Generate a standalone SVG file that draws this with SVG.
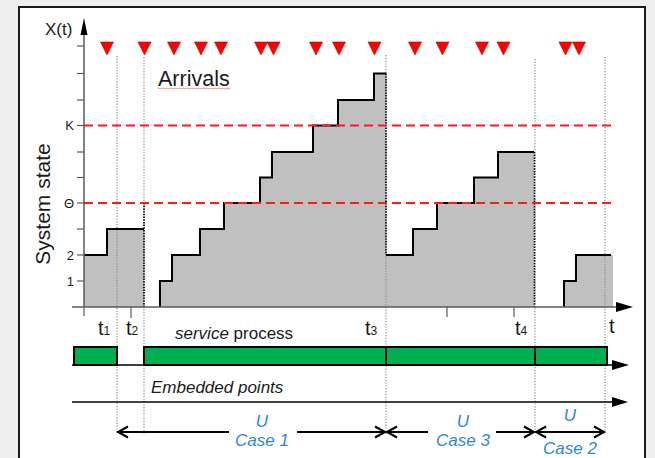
<svg xmlns="http://www.w3.org/2000/svg" width="655" height="458" viewBox="0 0 655 458">
  <style>
    text { font-family: "Liberation Sans", Arial, sans-serif; fill: #1a1a1a; }
    .axis { stroke: #5a5a5a; stroke-width: 1.5; fill: none; }
    .tick { stroke: #5a5a5a; stroke-width: 1.2; }
    .guide { stroke: #8a8a8a; stroke-width: 1.2; stroke-dasharray: 1.2 1.6; fill: none; }
    .drop { stroke: #000; stroke-width: 1.6; stroke-dasharray: 1.5 1.2; fill: none; }
    .area { fill: #c0c0c0; stroke: none; }
    .edge { stroke: #000; stroke-width: 2; fill: none; }
    .thr { stroke: #ff1a1a; stroke-width: 2; stroke-dasharray: 9 5; fill: none; }
    .arr { fill: #ff0000; stroke: #c00000; stroke-width: 0.6; }
    .busy { fill: #00b050; stroke: #000; stroke-width: 2; }
    .line { stroke: #000; stroke-width: 1.5; fill: none; }
    .span { stroke: #000; stroke-width: 2; fill: none; }
    .lbl { font-size: 13px; text-anchor: end; }
    .blue { fill: #2f86d4; font-style: italic; font-size: 17px; text-anchor: middle; }
  </style>

  <!-- page and frame -->
  <rect x="0" y="0" width="655" height="458" fill="#efefef"/>
  <rect x="19" y="7" width="626" height="470" fill="#ffffff" stroke="#1a1a1a" stroke-width="2"/>

  <!-- state trajectory -->
  <g id="trajectory">
    <path class="area" d="M84,307 V255 H107 V229 H144 V307 Z"/>
    <path class="area" d="M160,307 V281 H172 V255 H200 V229 H224 V203 H260 V177.5 H272 V152 H313 V125.5 H338 V100 H374 V73.5 H386 V307 Z"/>
    <path class="area" d="M386,307 V255 H413 V229 H437 V203 H474 V177.5 H498 V152 H534 V307 Z"/>
    <path class="area" d="M564,307 V281 H576 V255 H613 V307 Z"/>
  </g>

  <!-- vertical time markers -->
  <g id="markers">
    <line class="guide" x1="117" y1="56" x2="117" y2="434"/>
    <line class="guide" x1="144" y1="57" x2="144" y2="434"/>
    <line class="guide" x1="386" y1="55" x2="386" y2="434"/>
    <line class="guide" x1="535" y1="59" x2="535" y2="434"/>
    <line class="guide" x1="605" y1="57" x2="605" y2="434"/>
    <line class="drop" x1="144" y1="203" x2="144" y2="307"/>
    <line class="drop" x1="386" y1="73.5" x2="386" y2="255"/>
    <line class="drop" x1="534.5" y1="152" x2="534.5" y2="307"/>
  </g>

  <g id="trajectory-edges">
    <path class="edge" d="M84,255 H107 V229 H144"/>
    <path class="edge" d="M160,307 V281 H172 V255 H200 V229 H224 V203 H260 V177.5 H272 V152 H313 V125.5 H338 V100 H374 V73.5 H386"/>
    <path class="edge" d="M386,255 H413 V229 H437 V203 H474 V177.5 H498 V152 H534"/>
    <path class="edge" d="M564,307 V281 H576 V255 H611"/>
  </g>

  <!-- thresholds K and Theta -->
  <g id="thresholds">
    <line class="thr" x1="84" y1="125.5" x2="612" y2="125.5"/>
    <line class="thr" x1="84" y1="203" x2="612" y2="203"/>
  </g>

  <!-- axes -->
  <g id="axes">
    <line class="axis" x1="84" y1="307" x2="84" y2="33"/>
    <polygon points="80.5,35 84,18 87.5,35" fill="#000"/>
    <line class="axis" x1="72" y1="307" x2="618" y2="307"/>
    <polygon points="616,302 633,307 616,312" fill="#000"/>
    <g class="tick">
      <line x1="77" y1="46" x2="84" y2="46"/>
      <line x1="77" y1="73.5" x2="84" y2="73.5"/>
      <line x1="77" y1="100" x2="84" y2="100"/>
      <line x1="77" y1="125.5" x2="84" y2="125.5"/>
      <line x1="77" y1="152" x2="84" y2="152"/>
      <line x1="77" y1="177.5" x2="84" y2="177.5"/>
      <line x1="77" y1="203" x2="84" y2="203"/>
      <line x1="77" y1="229" x2="84" y2="229"/>
      <line x1="77" y1="255" x2="84" y2="255"/>
      <line x1="77" y1="281" x2="84" y2="281"/>
      <line x1="84" y1="307" x2="84" y2="316"/>
      <line x1="131" y1="307" x2="131" y2="318"/>
      <line x1="447" y1="307" x2="447" y2="317"/>
      <line x1="514" y1="307" x2="514" y2="317"/>
    </g>
    <text x="45" y="35" font-size="17">X(t)</text>
    <text class="lbl" x="74" y="130">K</text>
    <text class="lbl" x="74" y="207.5">Θ</text>
    <text class="lbl" x="74" y="259.5">2</text>
    <text class="lbl" x="74" y="285.5">1</text>
    <text transform="translate(50,204) rotate(-90)" font-size="21" text-anchor="middle">System state</text>
  </g>

  <!-- arrival instants -->
  <g id="arrivals">
    <g class="arr">
      <polygon points="100.5,42 113.5,42 107,55"/>
      <polygon points="138,42 151,42 144.5,55"/>
      <polygon points="167.5,42 180.5,42 174,55"/>
      <polygon points="194.5,42 207.5,42 201,55"/>
      <polygon points="214.5,42 227.5,42 221,55"/>
      <polygon points="254.5,42 267.5,42 261,55"/>
      <polygon points="267,42 280,42 273.5,55"/>
      <polygon points="309.5,42 322.5,42 316,55"/>
      <polygon points="332.5,42 345.5,42 339,55"/>
      <polygon points="368,42 381,42 374.5,55"/>
      <polygon points="408.5,42 421.5,42 415,55"/>
      <polygon points="436,42 449,42 442.5,55"/>
      <polygon points="475.5,42 488.5,42 482,55"/>
      <polygon points="497,42 510,42 503.5,55"/>
      <polygon points="559,42 572,42 565.5,55"/>
      <polygon points="572.5,42 585.5,42 579,55"/>
    </g>
    <text x="158" y="86" font-size="21.5">Arrivals</text>
    <path d="M158,88.5 q1,-1 2,0 t2,0 t2,0 t2,0 t2,0 t2,0 t2,0 t2,0 t2,0 t2,0 t2,0 t2,0 t2,0 t2,0 t2,0 t2,0 t2,0 t2,0 t2,0 t2,0 t2,0 t2,0 t2,0 t2,0 t2,0 t2,0 t2,0 t2,0 t2,0 t2,0 t2,0 t2,0 t2,0 t2,0 t2,0 t2,0" stroke="#ff6a6a" stroke-width="0.8" fill="none"/>
  </g>

  <!-- time labels -->
  <g id="time-labels" font-size="20">
    <text x="98" y="335">t<tspan font-size="12">1</tspan></text>
    <text x="126" y="335">t<tspan font-size="12">2</tspan></text>
    <text x="365" y="335">t<tspan font-size="12">3</tspan></text>
    <text x="515" y="335">t<tspan font-size="12">4</tspan></text>
    <text x="609" y="333">t</text>
  </g>

  <!-- service process -->
  <g id="service">
    <text x="175" y="339" font-size="17"><tspan font-style="italic">service</tspan> process</text>
    <line class="line" x1="72" y1="365" x2="614" y2="365"/>
    <polygon points="612,360 629,365 612,370" fill="#000"/>
    <rect class="busy" x="74" y="347" width="43" height="18"/>
    <rect class="busy" x="144" y="347" width="242" height="18"/>
    <rect class="busy" x="386" y="347" width="149" height="18"/>
    <rect class="busy" x="535" y="347" width="72" height="18"/>
  </g>

  <!-- embedded points -->
  <g id="embedded">
    <text x="151" y="393" font-size="17" font-style="italic">Embedded points</text>
    <line class="line" x1="72" y1="402" x2="614" y2="402"/>
    <polygon points="612,397 628,402 612,407" fill="#000"/>
  </g>

  <!-- cycle spans -->
  <g id="connectors">
    <path class="span" d="M117,432 H229 M297,432 H385"/>
    <path class="span" d="M128,426.5 L118,432 L128,437.5 M375,426.5 L385,432 L375,437.5"/>
    <path class="span" d="M387,432 H428 M496,432 H534"/>
    <path class="span" d="M397,426.5 L387,432 L397,437.5 M524,426.5 L534,432 L524,437.5"/>
    <path class="span" d="M536,432 H604"/>
    <path class="span" d="M546,426.5 L536,432 L546,437.5 M594,426.5 L604,432 L594,437.5"/>
  </g>
  <g id="case1">
    <text class="blue" x="262" y="427">U</text>
    <text class="blue" x="262" y="446">Case 1</text>
  </g>
  <g id="case3">
    <text class="blue" x="463" y="427">U</text>
    <text class="blue" x="463" y="446">Case 3</text>
  </g>
  <g id="case2">
    <text class="blue" x="570" y="421">U</text>
    <text class="blue" x="570" y="454">Case 2</text>
  </g>
</svg>
